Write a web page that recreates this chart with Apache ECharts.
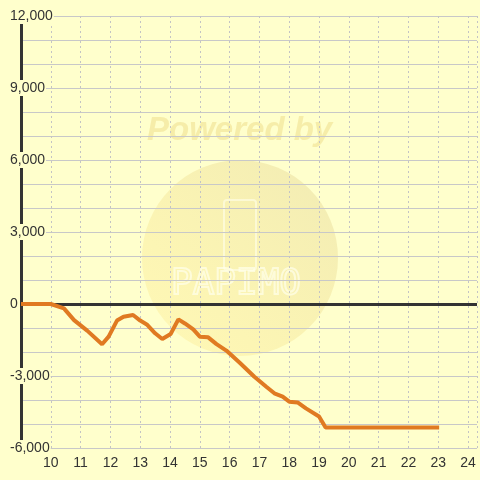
<!DOCTYPE html>
<html>
<head>
<meta charset="utf-8">
<script src="https://cdn.jsdelivr.net/npm/echarts@6/dist/echarts.min.js"></script>
<style>
    html, body { margin: 0; padding: 0; background: #ffffcc; }
    #chart { width: 480px; height: 480px; }
</style>
</head>
<body>
<div id="chart"></div>
<script>
    // hour of day -> balance
    const hours = [9, 10, 10.44, 10.78, 11.22, 11.72, 11.94, 12.22, 12.44, 12.76, 13.0, 13.22, 13.5, 13.74,
        14.02, 14.28, 14.5, 14.78, 15.0, 15.28, 15.56, 15.89, 16.33, 16.83, 17.22, 17.5, 17.78, 18.0,
        18.28, 18.56, 19.0, 19.22, 23.03]
    const values = [0, 0, -180, -670, -1110, -1680, -1360, -690, -530, -460, -690, -850, -1220, -1460,
        -1250, -640, -810, -1060, -1360, -1390, -1670, -1940, -2440, -3030, -3440, -3720, -3860, -4070,
        -4100, -4350, -4690, -5150, -5150]
    const xTickLabels = [10, 11, 12, 13, 14, 15, 16, 17, 18, 19, 20, 21, 22, 23, 24]
    const yTickLabels = [-6000, -3000, 0, 3000, 6000, 9000, 12000]

    const bg = '#ffffcc'
    const chart = echarts.init(document.getElementById('chart'))

    chart.setOption({
        backgroundColor: bg,
        animation: false,
        graphic: [
            {   // faint watermark
                type: 'circle',
                shape: { cx: 240, cy: 258, r: 98 },
                silent: true,
                z: -1,
                style: {
                    fill: {
                        type: 'linear', x: 0, y: 1, x2: 1, y2: 0,
                        colorStops: [
                            { offset: 0, color: 'rgba(255,236,140,0.35)' },
                            { offset: 1, color: 'rgba(232,222,165,0.6)' }
                        ]
                    }
                }
            },
            {
                type: 'rect',
                shape: { x: 224, y: 200, width: 32, height: 70, r: 3 },
                silent: true,
                z: -1,
                style: { fill: 'none', stroke: 'rgba(255,255,235,0.6)', lineWidth: 2 }
            },
            {
                type: 'text',
                left: 147,
                top: 114,
                silent: true,
                z: -1,
                style: {
                    text: 'Powered by',
                    font: 'italic bold 33px "Liberation Sans", Arial, sans-serif',
                    fill: 'rgba(244,232,160,0.8)'
                }
            },
            {
                type: 'text',
                left: 170,
                top: 266,
                silent: true,
                z: -1,
                style: {
                    text: 'PAPIMO',
                    font: '36px "DejaVu Sans Mono", monospace',
                    fill: 'none',
                    stroke: 'rgba(255,255,235,0.7)',
                    lineWidth: 2
                }
            }
        ],
        grid: {
            left: 21,
            right: 0,
            top: 16,
            bottom: 32,
            containLabel: false
        },
        xAxis: {
            type: 'value',
            min: 9,
            max: 24.3,
            interval: 1,
            axisLine: { show: false, onZero: false },
            axisTick: { show: false },
            axisLabel: {
                color: '#333',
                fontSize: 14,
                fontFamily: '"Liberation Sans", Arial, sans-serif',
                margin: 8,
                formatter: function (v) {
                    return xTickLabels.indexOf(v) >= 0 ? String(v) : ''
                }
            },
            splitLine: {
                show: true,
                lineStyle: { color: '#c4c4c4', type: [2, 3], width: 1 }
            }
        },
        yAxis: {
            type: 'value',
            min: -6000,
            max: 12000,
            interval: 1000,
            axisLine: {
                show: true,
                onZero: false,
                lineStyle: { color: '#333', width: 3 }
            },
            axisTick: { show: false },
            axisLabel: {
                color: '#333',
                fontSize: 14,
                fontFamily: '"Liberation Sans", Arial, sans-serif',
                align: 'left',
                margin: 12,
                backgroundColor: bg,
                padding: [1, 1],
                formatter: function (v) {
                    return yTickLabels.indexOf(v) >= 0 ? v.toLocaleString('en-US') : ''
                }
            },
            splitLine: {
                show: true,
                lineStyle: { color: '#c8c8c8', width: 1 }
            }
        },
        series: [
            {
                type: 'line',
                data: hours.map((h, i) => [h, values[i]]),
                symbol: 'none',
                lineStyle: { color: '#e07a22', width: 4 },
                itemStyle: { color: '#e07a22' },
                markLine: {
                    silent: true,
                    z: 1,
                    symbol: 'none',
                    label: { show: false },
                    lineStyle: { color: '#333', width: 3, type: 'solid' },
                    data: [{ yAxis: 0 }]
                }
            }
        ]
    })
</script>
</body>
</html>
